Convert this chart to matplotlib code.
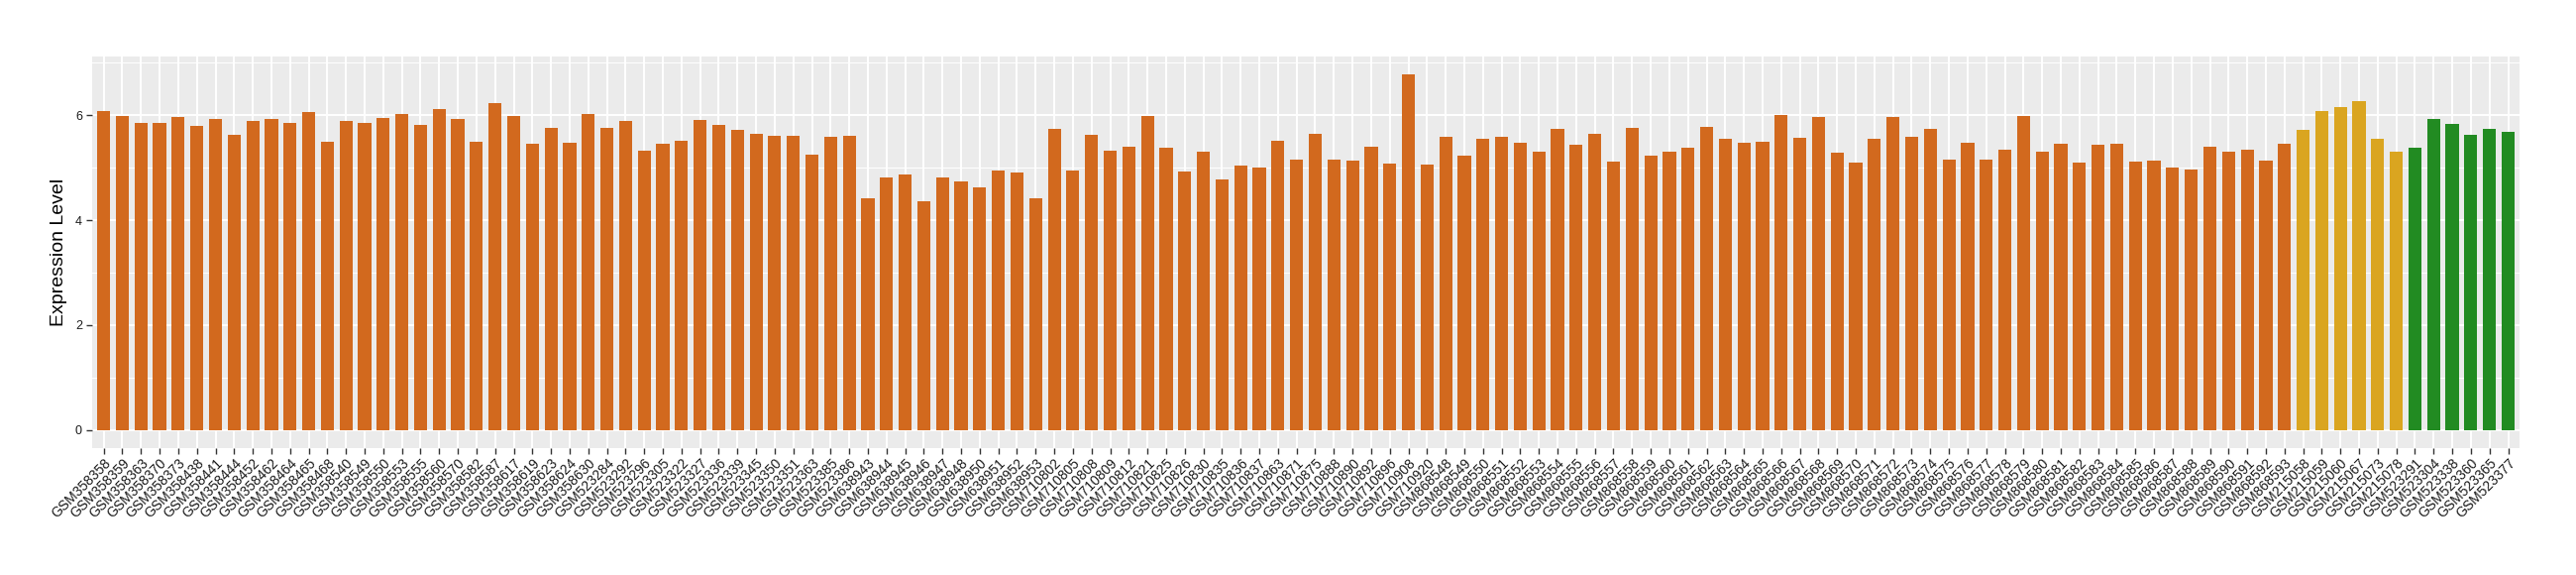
import matplotlib.pyplot as plt
import numpy as np

plt.rcParams['font.family'] = ['Liberation Sans', 'DejaVu Sans']

# sample ids (x axis order)
samples_a = ['GSM358358', 'GSM358359', 'GSM358363', 'GSM358370', 'GSM358373', 'GSM358438',
             'GSM358441', 'GSM358444', 'GSM358452', 'GSM358462', 'GSM358464', 'GSM358465',
             'GSM358468', 'GSM358540', 'GSM358549', 'GSM358550', 'GSM358553', 'GSM358555',
             'GSM358560', 'GSM358570', 'GSM358582', 'GSM358587', 'GSM358617', 'GSM358619',
             'GSM358623', 'GSM358624', 'GSM358630',
             'GSM523284', 'GSM523292', 'GSM523296', 'GSM523305', 'GSM523322', 'GSM523327',
             'GSM523336', 'GSM523339', 'GSM523345', 'GSM523350', 'GSM523351', 'GSM523363',
             'GSM523385', 'GSM523386',
             'GSM638943', 'GSM638944', 'GSM638945', 'GSM638946', 'GSM638947', 'GSM638948',
             'GSM638950', 'GSM638951', 'GSM638952', 'GSM638953',
             'GSM710802', 'GSM710805', 'GSM710808', 'GSM710809', 'GSM710812', 'GSM710821',
             'GSM710825', 'GSM710826', 'GSM710830', 'GSM710835', 'GSM710836', 'GSM710837',
             'GSM710863', 'GSM710871', 'GSM710875', 'GSM710888', 'GSM710890', 'GSM710892',
             'GSM710896', 'GSM710908', 'GSM710920',
             'GSM868548', 'GSM868549', 'GSM868550', 'GSM868551', 'GSM868552', 'GSM868553',
             'GSM868554', 'GSM868555', 'GSM868556', 'GSM868557', 'GSM868558', 'GSM868559',
             'GSM868560', 'GSM868561', 'GSM868562', 'GSM868563', 'GSM868564', 'GSM868565',
             'GSM868566', 'GSM868567', 'GSM868568', 'GSM868569', 'GSM868570', 'GSM868571',
             'GSM868572', 'GSM868573', 'GSM868574', 'GSM868575', 'GSM868576', 'GSM868577',
             'GSM868578', 'GSM868579', 'GSM868580', 'GSM868581', 'GSM868582', 'GSM868583',
             'GSM868584', 'GSM868585', 'GSM868586', 'GSM868587', 'GSM868588', 'GSM868589',
             'GSM868590', 'GSM868591', 'GSM868592', 'GSM868593']
samples_b = ['GSM215058', 'GSM215059', 'GSM215060', 'GSM215067', 'GSM215073', 'GSM215078']
samples_c = ['GSM523291', 'GSM523304', 'GSM523338', 'GSM523360', 'GSM523365', 'GSM523377']

# expression values
values_a = [6.07, 5.99, 5.86, 5.86, 5.96, 5.79, 5.92, 5.62, 5.88, 5.92,
            5.86, 6.05, 5.50, 5.88, 5.86, 5.94, 6.03, 5.81, 6.11, 5.92,
            5.50, 6.22, 5.98, 5.45, 5.75, 5.47, 6.03, 5.75, 5.88, 5.33,
            5.45, 5.52, 5.90, 5.81, 5.71, 5.65, 5.60, 5.60, 5.24, 5.58,
            5.60, 4.41, 4.81, 4.86, 4.35, 4.82, 4.73, 4.62, 4.94, 4.90,
            4.41, 5.73, 4.94, 5.62, 5.32, 5.39, 5.98, 5.37, 4.92, 5.30,
            4.77, 5.03, 5.01, 5.52, 5.15, 5.65, 5.16, 5.13, 5.39, 5.07,
            6.77, 5.05, 5.58, 5.22, 5.54, 5.58, 5.47, 5.30, 5.73, 5.43,
            5.65, 5.11, 5.75, 5.22, 5.30, 5.37, 5.77, 5.54, 5.48, 5.50,
            6.01, 5.56, 5.96, 5.28, 5.09, 5.54, 5.96, 5.58, 5.73, 5.15,
            5.48, 5.16, 5.35, 5.99, 5.30, 5.45, 5.09, 5.43, 5.45, 5.11,
            5.13, 5.01, 4.96, 5.39, 5.30, 5.35, 5.14, 5.45]
values_b = [5.71, 6.07, 6.16, 6.26, 5.54, 5.31]
values_c = [5.37, 5.92, 5.84, 5.62, 5.73, 5.69]

color_a = '#D2691E'
color_b = '#DAA520'
color_c = '#228B22'

samples = samples_a + samples_b + samples_c
values = values_a + values_b + values_c
colors = [color_a] * len(values_a) + [color_b] * len(values_b) + [color_c] * len(values_c)
x = np.arange(1, len(samples) + 1)

fig = plt.figure(figsize=(26, 5.8), dpi=100)
ax = fig.add_axes([0.0359, 0.2212, 0.978 - 0.0359, 0.902 - 0.2212])

ax.set_facecolor('#EBEBEB')
ax.bar(x, values, width=0.7, color=colors, zorder=3)

ax.set_xlim(0.4, len(samples) + 0.6)
ax.set_ylim(-0.339, 7.12)
ax.set_yticks([0, 2, 4, 6])
ax.set_yticks([1, 3, 5, 7], minor=True)
ax.set_xticks(x)
ax.set_xticklabels(samples, rotation=45, ha='right', va='top',
                   rotation_mode='anchor', fontsize=10)

ax.grid(True, which='major', color='white', linewidth=1.4, zorder=0)
ax.grid(True, which='minor', axis='y', color='white', linewidth=0.7, zorder=0)
ax.set_axisbelow(True)
for s in ax.spines.values():
    s.set_visible(False)

ax.tick_params(axis='both', which='major', color='#333333', length=4, width=1,
               labelcolor='#1a1a1a')
ax.tick_params(axis='y', which='major', labelsize=9)
ax.tick_params(axis='y', which='minor', length=0)
ax.tick_params(axis='x', pad=2)

ax.set_ylabel('Expression Level', fontsize=14, labelpad=6)

fig.savefig('out.png', dpi=100)
